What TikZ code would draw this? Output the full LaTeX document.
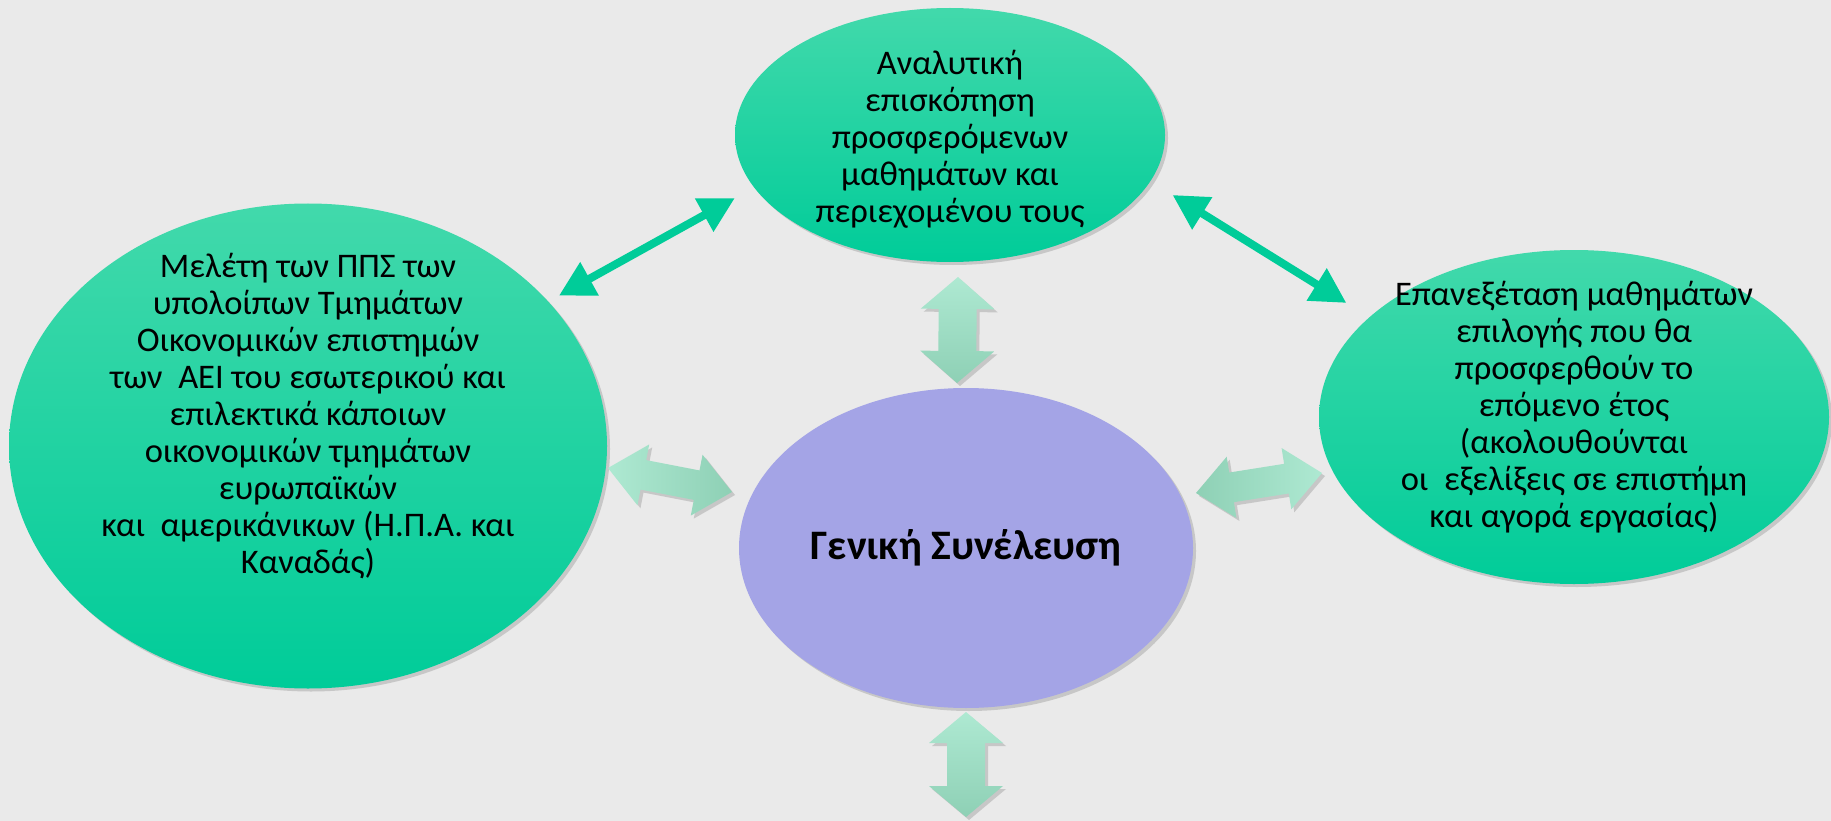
\documentclass[tikz,border=0pt]{standalone}
\usepackage{fontspec}
\setmainfont{Carlito}
\usepackage{tikz}
\usetikzlibrary{calc,shapes.geometric,arrows.meta,shadows}
\definecolor{paper}{HTML}{EAEAEA}
\definecolor{grn}{HTML}{00CC99}
\definecolor{grnlt}{HTML}{42D9AB}
\definecolor{lilac}{HTML}{A4A4E6}
\definecolor{pale}{HTML}{AEE9D2}
\definecolor{paledk}{HTML}{8ED0B5}
\tikzset{
  dropsh/.style={drop shadow={shadow xshift=3pt, shadow yshift=-3pt, opacity=0.22, fill=black!70}},
  oval/.style={ellipse, draw=none, inner sep=0pt, dropsh},
  grnoval/.style={oval, top color=grnlt, middle color=grn, bottom color=grn},
  lilacoval/.style={oval, fill=lilac},
  lab/.style={text=black, align=center, font=\fontsize{34.5}{37}\selectfont},
  biglab/.style={text=black, font=\fontsize{42}{48}\selectfont\bfseries},
  linkarr/.style={draw=grn, line width=8pt, >={Triangle[length=35pt,width=36pt]}, <->},
  palev/.style={top color=pale, bottom color=paledk, dropsh},
  paleh/.style={left color=pale, right color=paledk, dropsh},
  palehr/.style={left color=paledk, right color=pale, dropsh}
}
% block double arrow: style, tip, tip, head length, head half width, shaft half width
\newcommand{\blockarr}[6]{%
  \coordinate (ba1) at ($(#2)!#4!(#3)$);
  \coordinate (ba2) at ($(#3)!#4!(#2)$);
  \path[#1] (#2)
    -- ($(ba1)!#5!90:(#2)$) -- ($(ba1)!#6!90:(#2)$)
    -- ($(ba2)!#6!-90:(#3)$) -- ($(ba2)!#5!-90:(#3)$)
    -- (#3)
    -- ($(ba2)!#5!90:(#3)$) -- ($(ba2)!#6!90:(#3)$)
    -- ($(ba1)!#6!-90:(#2)$) -- ($(ba1)!#5!-90:(#2)$)
    -- cycle;
}
\begin{document}
\begin{tikzpicture}[x=1pt, y=-1pt]
  \useasboundingbox (0,0) rectangle (1831,821);
  \fill[paper] (0,0) rectangle (1831,821);

  \node[grnoval, minimum width=430pt, minimum height=254pt] (survey) at (950,135) {};
  \node[grnoval, minimum width=598pt, minimum height=485pt] (study) at (308,446) {};
  \node[grnoval, minimum width=510pt, minimum height=334pt] (review) at (1574,417) {};
  \node[lilacoval, minimum width=454pt, minimum height=320pt] (assembly) at (966,548) {};

  \node[lab] at ($(survey)+(0,4)$) {Αναλυτική\\επισκόπηση\\προσφερόμενων\\μαθημάτων και\\περιεχομένου τους};
  \node[lab] at ($(study)+(0,-30)$) {Μελέτη των ΠΠΣ των\\υπολοίπων Τμημάτων\\Οικονομικών επιστημών\\των\ \ ΑΕΙ του εσωτερικού και\\επιλεκτικά κάποιων\\οικονομικών τμημάτων\\ευρωπαϊκών\\και\ \ αμερικάνικων (Η.Π.Α. και\\Καναδάς)};
  \node[lab] at ($(review)+(0,-10)$) {Επανεξέταση μαθημάτων\\επιλογής που θα\\προσφερθούν το\\επόμενο έτος\\(ακολουθούνται\\οι\ \ εξελίξεις σε επιστήμη\\και αγορά εργασίας)};
  \node[biglab] at (assembly) {Γενική Συνέλευση};

  \draw[linkarr, shorten <=12pt, shorten >=22pt] (study.31) -- (survey.195);
  \draw[linkarr, shorten <=26pt, shorten >=27pt] (survey.347) -- (review.154);

  \coordinate (upA) at (958,277);
  \coordinate (upB) at (957,383);
  \coordinate (lowA) at (966,712);
  \coordinate (lowB) at (966,817);
  \coordinate (lftA) at (608,468);
  \coordinate (lftB) at (732,492);
  \coordinate (rgtA) at (1196,493);
  \coordinate (rgtB) at (1322,473);

  \blockarr{palev}{upA}{upB}{32pt}{37pt}{19pt}
  \blockarr{palev}{lowA}{lowB}{31pt}{37pt}{19pt}
  \blockarr{paleh}{lftA}{lftB}{36pt}{31pt}{15pt}
  \blockarr{palehr}{rgtA}{rgtB}{36pt}{31pt}{15pt}
\end{tikzpicture}
\end{document}
